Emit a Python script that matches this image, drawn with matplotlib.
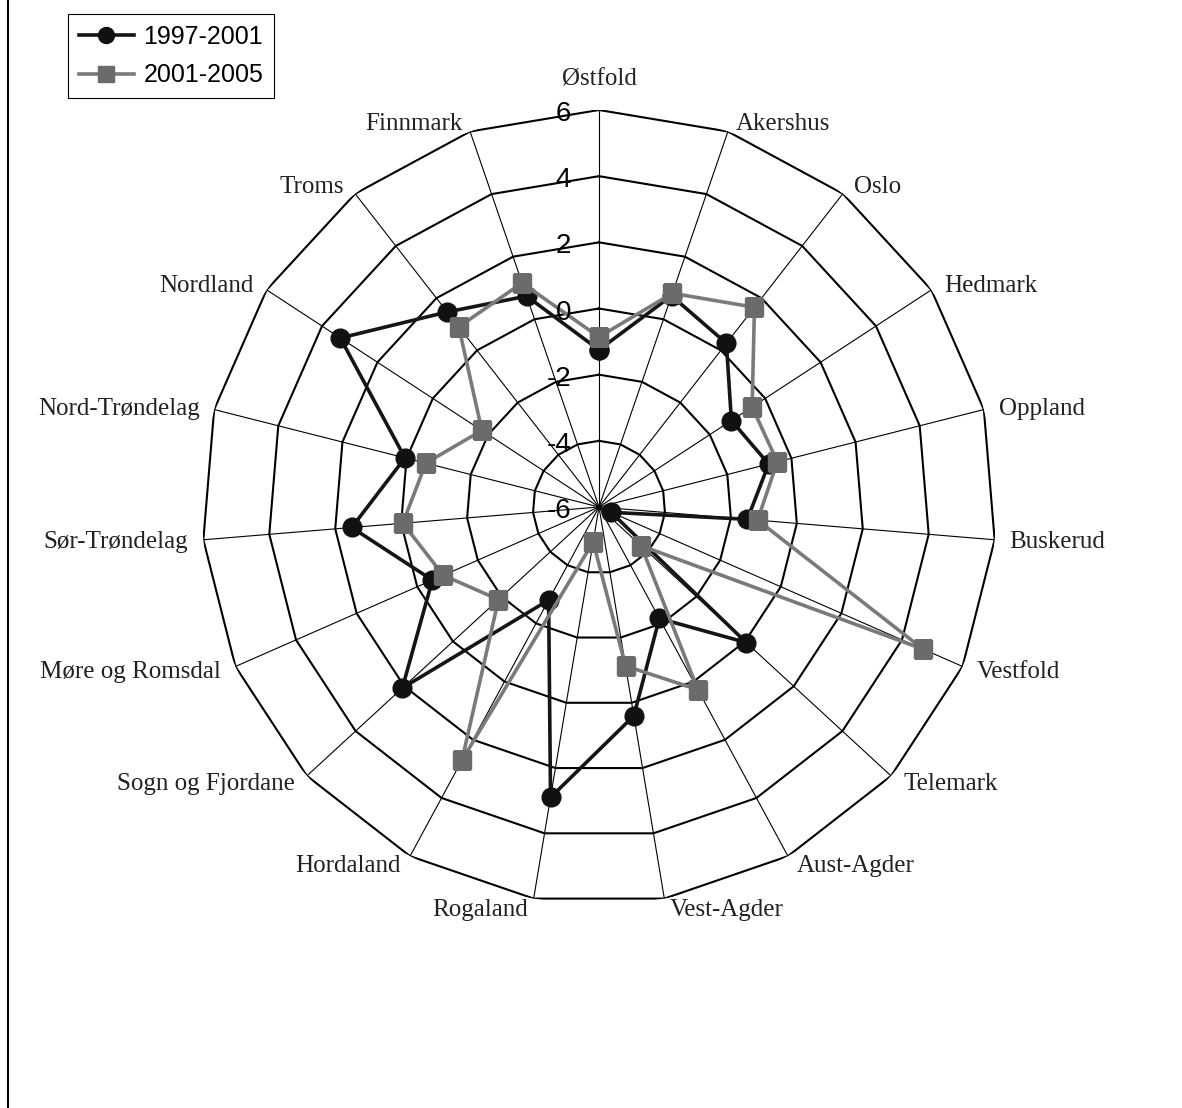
import numpy as np
import matplotlib
matplotlib.use("Agg")
import matplotlib.pyplot as plt
from matplotlib.lines import Line2D

categories = ['Østfold', 'Akershus', 'Oslo', 'Hedmark', 'Oppland', 'Buskerud',
              'Vestfold', 'Telemark', 'Aust-Agder', 'Vest-Agder', 'Rogaland',
              'Hordaland', 'Sogn og Fjordane', 'Møre og Romsdal', 'Sør-Trøndelag',
              'Nord-Trøndelag', 'Nordland', 'Troms', 'Finnmark']
series_1997_2001 = [-1.25, 0.75, 0.27, -1.22, -0.71, -1.5, -5.6, 0.05, -2.17, 0.4,
                    2.9, -2.8, 2.08, -0.5, 1.5, 0.05, 3.34, 1.47, 0.74]
series_2001_2005 = [-0.86, 0.83, 1.65, -0.47, -0.44, -1.19, 4.7, -4.27, 0.28, -1.13,
                    -4.93, 2.7, -1.87, -0.86, -0.05, -0.6, -1.77, 0.9, 1.16]
series_names = ['1997-2001', '2001-2005']
r_ticks = [-6, -4, -2, 0, 2, 4, 6]

W, H = 1182, 1108
fig = plt.figure(figsize=(W / 100, H / 100), dpi=100)
fig.patch.set_facecolor('white')

cx, cy, R = 599, 507, 397
ax = fig.add_axes([(cx - R) / W, (H - cy - R) / H, 2 * R / W, 2 * R / H], projection='polar')
ax.set_theta_zero_location('N')
ax.set_theta_direction(-1)
ax.set_ylim(r_ticks[0], r_ticks[-1])
ax.grid(False)
ax.set_xticks([])
ax.set_yticks([])
ax.spines['polar'].set_visible(False)
ax.patch.set_alpha(0)

n = len(categories)
theta = np.arange(n) * 2 * np.pi / n
theta_c = np.append(theta, theta[0])

# polygon rings
for v in r_ticks[1:]:
    ax.plot(theta_c, [v] * (n + 1), color='black', lw=1.5, zorder=1)
# spokes
for t in theta:
    ax.plot([t, t], [r_ticks[0], r_ticks[-1]], color='black', lw=0.8, zorder=1)

s1 = np.append(series_1997_2001, series_1997_2001[0])
s2 = np.append(series_2001_2005, series_2001_2005[0])
ax.plot(theta_c, s1, color='#151515', lw=2.6, marker='o', markersize=13.5,
        markerfacecolor='#111111', markeredgecolor='#111111', zorder=3, label=series_names[0])
ax.plot(theta_c, s2, color='#7a7a7a', lw=2.6, marker='s', markersize=13,
        markerfacecolor='#6b6b6b', markeredgecolor='#6b6b6b', zorder=4, label=series_names[1])

# radial tick labels
for v in r_ticks:
    ax.annotate(str(v), xy=(0, v), xycoords='data', xytext=(-28, -1),
                textcoords='offset pixels', ha='right', va='center_baseline',
                fontsize=20, family='Liberation Sans', color='black', zorder=6,
                annotation_clip=False)

# category labels
for t, name in zip(theta, categories):
    s, c = np.sin(t), np.cos(t)
    if abs(s) < 0.01:
        ax.annotate(name, xy=(t, r_ticks[-1]), xytext=(0, 20), textcoords='offset pixels',
                    ha='center', va='bottom', fontsize=18, family='Liberation Serif',
                    color='#222222', annotation_clip=False)
    else:
        ox = np.sign(s) * 4 + 11 * s
        oy = 10 * c + 1
        ax.annotate(name, xy=(t, r_ticks[-1]), xytext=(ox, oy), textcoords='offset pixels',
                    ha='left' if s > 0 else 'right', va='center_baseline',
                    fontsize=18, family='Liberation Serif', color='#222222',
                    annotation_clip=False)

# left frame line
fig.add_artist(Line2D([8 / W, 8 / W], [0, 1], transform=fig.transFigure, color='black', lw=1.5))

leg = fig.legend(loc='upper left', bbox_to_anchor=(68 / W, 1 - 14 / H),
                 bbox_transform=fig.transFigure, borderaxespad=0,
                 prop={'family': 'Liberation Sans', 'size': 18},
                 frameon=True, fancybox=False, edgecolor='black', framealpha=1,
                 handlelength=2.2, handletextpad=0.4, labelspacing=0.6,
                 borderpad=0.42, markerscale=0.85)
leg.get_frame().set_linewidth(0.8)

fig.savefig('out.png', dpi=100, facecolor='white')
